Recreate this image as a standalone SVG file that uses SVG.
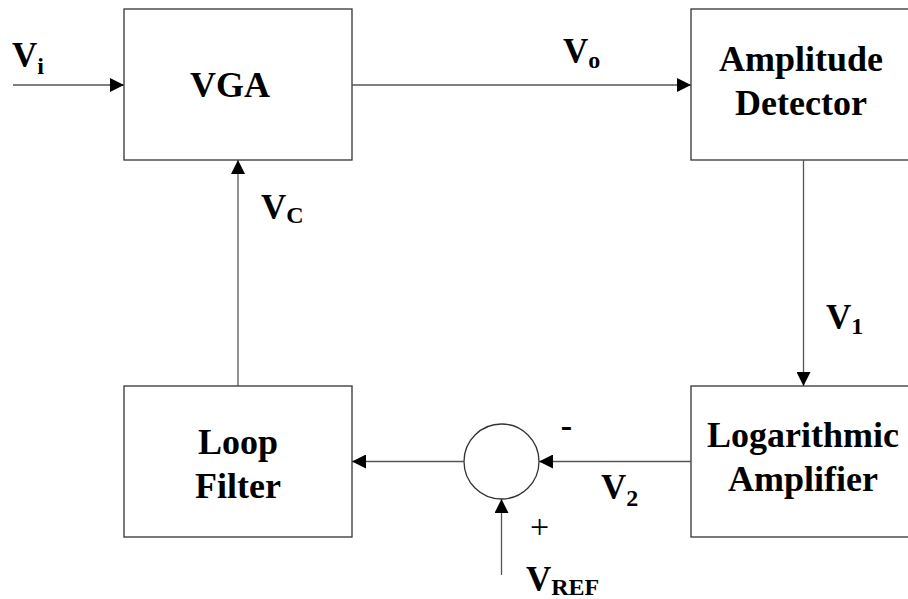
<svg xmlns="http://www.w3.org/2000/svg" width="908" height="599" viewBox="0 0 908 599">
<style>
.box{fill:#fff;stroke:#333;stroke-width:1.3}
.wire{fill:none;stroke:#555;stroke-width:1.3}
.lbl{font-family:"Liberation Serif","Times New Roman",serif;font-weight:bold;font-size:36px;fill:#000;text-anchor:middle}
.v{font-family:"Liberation Serif","Times New Roman",serif;font-weight:bold;font-size:35px;fill:#000}
.sub{font-size:24px}
.sign{font-family:"Liberation Serif","Times New Roman",serif;font-size:34px;fill:#000}
</style>
<defs>
<marker id="arr" markerUnits="userSpaceOnUse" markerWidth="14" markerHeight="14" viewBox="0 0 14 14" refX="14" refY="7" orient="auto">
<path d="M0,0 L14,7 L0,14 Z" fill="#000"/>
</marker>
</defs>
<g id="vga"><rect class="box" x="124" y="9" width="228" height="151"/><text class="lbl" x="230" y="97">VGA</text></g>
<g id="amp-det"><rect class="box" x="691" y="9" width="220" height="151"/><text class="lbl" x="801" y="71">Amplitude</text><text class="lbl" x="801" y="115">Detector</text></g>
<g id="loop-filter"><rect class="box" x="124" y="386" width="228" height="151"/><text class="lbl" x="238" y="454">Loop</text><text class="lbl" x="238" y="498">Filter</text></g>
<g id="log-amp"><rect class="box" x="691" y="386" width="220" height="151"/><text class="lbl" x="803" y="447">Logarithmic</text><text class="lbl" x="803" y="491">Amplifier</text></g>
<g id="summer"><circle class="box" cx="501.5" cy="461.5" r="37.5"/></g>
<g id="connectors">
<line class="wire" x1="13" y1="85" x2="124" y2="85" marker-end="url(#arr)"/>
<line class="wire" x1="352" y1="85" x2="691" y2="85" marker-end="url(#arr)"/>
<line class="wire" x1="803.5" y1="160" x2="803.5" y2="386" marker-end="url(#arr)"/>
<line class="wire" x1="691" y1="461.5" x2="539" y2="461.5" marker-end="url(#arr)"/>
<line class="wire" x1="464" y1="461.5" x2="352" y2="461.5" marker-end="url(#arr)"/>
<line class="wire" x1="238" y1="386" x2="238" y2="160" marker-end="url(#arr)"/>
<line class="wire" x1="501.5" y1="575" x2="501.5" y2="499" marker-end="url(#arr)"/>
</g>
<g id="labels">
<text class="v" x="12" y="67">V<tspan class="sub" dy="7">i</tspan></text>
<text class="v" x="563" y="63">V<tspan class="sub" dy="5">o</tspan></text>
<text class="v" x="261" y="219">V<tspan class="sub" dy="4">C</tspan></text>
<text class="v" x="826" y="329">V<tspan class="sub" dy="5">1</tspan></text>
<text class="v" x="601" y="499">V<tspan class="sub" dy="7">2</tspan></text>
<text class="v" x="526" y="591">V<tspan class="sub" dy="4">REF</tspan></text>
<text class="sign" x="566.5" y="437" text-anchor="middle" font-weight="bold">-</text>
<text class="sign" x="539.5" y="538" text-anchor="middle">+</text>
</g>
</svg>
